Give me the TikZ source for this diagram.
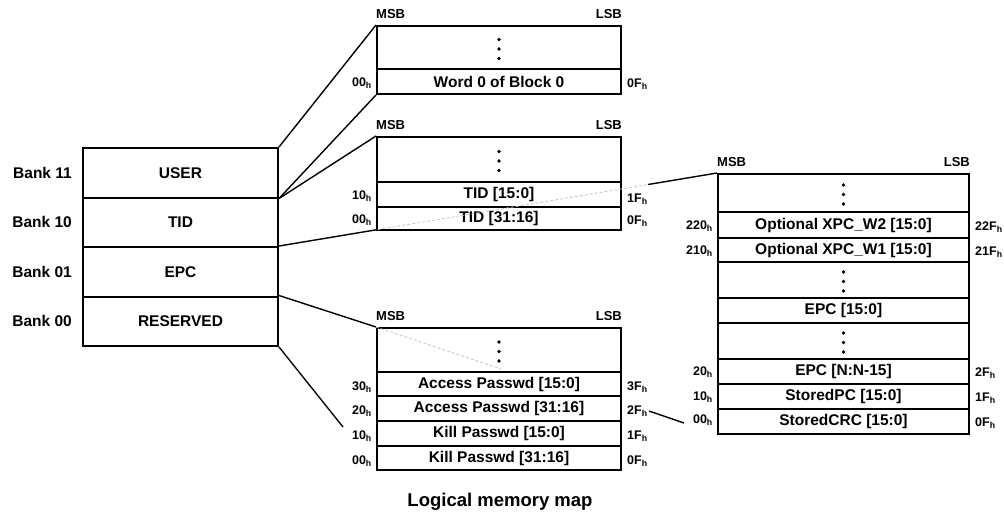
\documentclass[tikz,border=0pt]{standalone}
\usepackage{fontspec}
\setmainfont{Liberation Sans}
\usetikzlibrary{calc}
\pgfdeclarelayer{bg}
\pgfsetlayers{bg,main}
\newcommand\hx[1]{#1\textsubscript{h}}
\begin{document}
\begin{tikzpicture}[x=1pt,y=-1pt,
  row/.style={draw, fill=white, line width=2pt, anchor=north west, inner sep=0pt,
    font=\fontsize{15.5}{18}\bfseries\selectfont},
  bank/.style={anchor=east, inner sep=0pt, font=\fontsize{15.5}{18}\bfseries\selectfont},
  hexl/.style={anchor=east, inner sep=1pt, font=\fontsize{12.5}{14}\bfseries\selectfont},
  hexr/.style={anchor=west, inner sep=1pt, font=\fontsize{12.5}{14}\bfseries\selectfont},
  msb/.style={anchor=base west, inner sep=0pt, font=\fontsize{13}{15}\bfseries\selectfont},
  lsb/.style={anchor=base east, inner sep=0pt, font=\fontsize{13}{15}\bfseries\selectfont},
  conn/.style={line width=1.4pt},
  faint/.style={line width=0.8pt, gray!45, densely dashed},
  dot/.style={fill=black, circle, inner sep=0pt, minimum size=3.8pt}
]
\useasboundingbox (0,0) rectangle (1004,512);

% ---- bank box
\node[row, minimum width=195, minimum height=49.5] (user) at (82,147) {USER};
\node[row, minimum width=195, minimum height=49.5] (tid) at (82,196.5) {TID};
\node[row, minimum width=195, minimum height=49.5] (epc) at (82,246) {EPC};
\node[row, minimum width=195, minimum height=49.5] (res) at (82,295.5) {RESERVED};
\node[bank] (b11) at ($(user.west)+(-10,0)$) {Bank 11};
\node[bank] (b10) at ($(tid.west)+(-10,0)$) {Bank 10};
\node[bank] (b01) at ($(epc.west)+(-10,0)$) {Bank 01};
\node[bank] (b00) at ($(res.west)+(-10,0)$) {Bank 00};

% ---- user memory
\node[row, minimum width=244, minimum height=43] (ub1) at (376,25) {};
\node[row, minimum width=244, minimum height=25] (ub0) at (376,68) {Word 0 of Block 0};

% ---- TID memory
\node[row, minimum width=244, minimum height=45] (t2) at (376,136) {};
\node[row, minimum width=244, minimum height=25] (t1) at (376,181) {TID [15:0]};
\node[row, minimum width=244, minimum height=23] (t0) at (376,206) {TID [31:16]};

% ---- reserved memory
\node[row, minimum width=244, minimum height=44] (r4) at (376,327) {};
\node[row, minimum width=244, minimum height=24] (r3) at (376,371) {Access Passwd [15:0]};
\node[row, minimum width=244, minimum height=25] (r2) at (376,395) {Access Passwd [31:16]};
\node[row, minimum width=244, minimum height=25] (r1) at (376,420) {Kill Passwd [15:0]};
\node[row, minimum width=244, minimum height=24] (r0) at (376,445) {Kill Passwd [31:16]};

% ---- EPC memory
\node[row, minimum width=251, minimum height=38] (e8) at (717,173) {};
\node[row, minimum width=251, minimum height=26] (e7) at (717,211) {Optional XPC\_W2 [15:0]};
\node[row, minimum width=251, minimum height=24] (e6) at (717,237) {Optional XPC\_W1 [15:0]};
\node[row, minimum width=251, minimum height=36] (e5) at (717,261) {};
\node[row, minimum width=251, minimum height=25] (e4) at (717,297) {EPC [15:0]};
\node[row, minimum width=251, minimum height=36] (e3) at (717,322) {};
\node[row, minimum width=251, minimum height=25] (e2) at (717,358) {EPC [N:N-15]};
\node[row, minimum width=251, minimum height=25] (e1) at (717,383) {StoredPC [15:0]};
\node[row, minimum width=251, minimum height=25] (e0) at (717,408) {StoredCRC [15:0]};

% ---- vertical dots
\foreach \n in {ub1,t2,r4,e8,e5,e3}{
  \node[dot] at ($(\n.center)+(0,-8)$) {};
  \node[dot] at ($(\n.center)+(0,1.5)$) {};
  \node[dot] at ($(\n.center)+(0,11)$) {};
}

% ---- MSB / LSB
\foreach \n in {ub1,t2,r4,e8}{
  \node[msb] at ($(\n.north west)+(0,-7)$) {MSB};
  \node[lsb] at ($(\n.north east)+(0,-7)$) {LSB};
}

% ---- address labels
\node[hexl] (lub0) at ($(ub0.west)+(-3,2)$) {\hx{00}};
\node[hexr] (rub0) at ($(ub0.east)+(4,3)$) {\hx{0F}};
\node[hexl] (lt1) at ($(t1.west)+(-3,2)$) {\hx{10}};
\node[hexr] (rt1) at ($(t1.east)+(4,5)$) {\hx{1F}};
\node[hexl] (lt0) at ($(t0.west)+(-3,2)$) {\hx{00}};
\node[hexr] (rt0) at ($(t0.east)+(4,3)$) {\hx{0F}};
\node[hexl] (lr3) at ($(r3.west)+(-3,3)$) {\hx{30}};
\node[hexr] (rr3) at ($(r3.east)+(4,3)$) {\hx{3F}};
\node[hexl] (lr2) at ($(r2.west)+(-3,3)$) {\hx{20}};
\node[hexr] (rr2) at ($(r2.east)+(4,3)$) {\hx{2F}};
\node[hexl] (lr1) at ($(r1.west)+(-3,3)$) {\hx{10}};
\node[hexr] (rr1) at ($(r1.east)+(4,3)$) {\hx{1F}};
\node[hexl] (lr0) at ($(r0.west)+(-3,3)$) {\hx{00}};
\node[hexr] (rr0) at ($(r0.east)+(4,3)$) {\hx{0F}};
\node[hexl] (le7) at ($(e7.west)+(-3,1)$) {\hx{220}};
\node[hexr] (re7) at ($(e7.east)+(4,2)$) {\hx{22F}};
\node[hexl] (le6) at ($(e6.west)+(-3,1)$) {\hx{210}};
\node[hexr] (re6) at ($(e6.east)+(4,2)$) {\hx{21F}};
\node[hexl] (le2) at ($(e2.west)+(-3,1)$) {\hx{20}};
\node[hexr] (re2) at ($(e2.east)+(4,2)$) {\hx{2F}};
\node[hexl] (le1) at ($(e1.west)+(-3,1)$) {\hx{10}};
\node[hexr] (re1) at ($(e1.east)+(4,2)$) {\hx{1F}};
\node[hexl] (le0) at ($(e0.west)+(-3,-1)$) {\hx{00}};
\node[hexr] (re0) at ($(e0.east)+(4,2)$) {\hx{0F}};

% ---- connectors
\coordinate (k10) at (343,427);
\coordinate (a2f) at (649,411);
\coordinate (c00) at (684,423);
\begin{pgfonlayer}{bg}
\begin{scope}[even odd rule]
  \clip (0,0) rectangle (1004,512) (619,150) rectangle (648,240);
  \draw[conn] (epc.north east) -- (e8.north west);
\end{scope}
\end{pgfonlayer}
\draw[conn] (user.north east) -- (ub1.north west);
\draw[conn] (user.south east) -- (ub0.south west);
\draw[conn] (user.south east) -- (t2.north west);
\draw[conn] (res.north east) -- (r4.north west);
\draw[conn] (res.south east) -- (k10);
\draw[conn] (a2f) -- (c00);
\begin{scope}
  \clip (376,150) rectangle (648,240);
  \draw[faint] (epc.north east) -- (e8.north west);
\end{scope}
\draw[faint] (r4.north west) -- ($(r4.south)+(2,-4)$);

% ---- caption
\node[font=\fontsize{18.5}{22}\bfseries\selectfont] (cap) at (500,502) {Logical memory map};
\end{tikzpicture}
\end{document}
